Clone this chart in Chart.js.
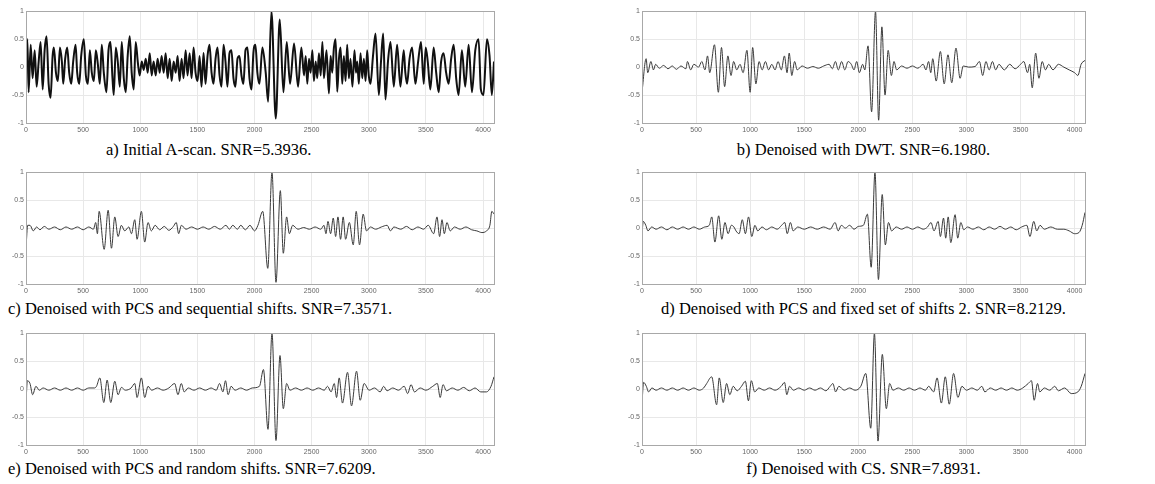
<!DOCTYPE html>
<html>
<head>
<meta charset="utf-8">
<script src="https://cdn.jsdelivr.net/npm/chart.js@4.4.1/dist/chart.umd.min.js"></script>
<style>
  html, body { margin: 0; padding: 0; background: #fff; }
  body { width: 1155px; height: 484px; position: relative; overflow: hidden; }
  .panel { position: absolute; height: 132px; }
  .left { left: 0px; width: 500px; }
  .right { left: 616px; width: 475px; }
  .cap { position: absolute; font-family: "Liberation Serif", "Times New Roman", serif; font-size: 16.5px; line-height: 18px; color: #000; white-space: nowrap; }
  .rc { left: 642px; width: 443px; text-align: center; }
</style>
</head>
<body>
<div class="panel left" style="top:5px"><canvas id="pa"></canvas></div>
<div class="panel right" style="top:5px"><canvas id="pb"></canvas></div>
<div class="panel left" style="top:166px"><canvas id="pc"></canvas></div>
<div class="panel right" style="top:166px"><canvas id="pd"></canvas></div>
<div class="panel left" style="top:327px"><canvas id="pe"></canvas></div>
<div class="panel right" style="top:327px"><canvas id="pf"></canvas></div>

<div class="cap" style="left:106px;top:141px">a) Initial A-scan. SNR=5.3936.</div>
<div class="cap rc" style="top:141px">b) Denoised with DWT. SNR=6.1980.</div>
<div class="cap" style="left:8px;top:300px">c) Denoised with PCS and sequential shifts. SNR=7.3571.</div>
<div class="cap rc" style="top:300px">d) Denoised with PCS and fixed set of shifts 2. SNR=8.2129.</div>
<div class="cap" style="left:8px;top:460px">e) Denoised with PCS and random shifts. SNR=7.6209.</div>
<div class="cap rc" style="top:460px">f) Denoised with CS. SNR=7.8931.</div>

<script>
// axis ticks shared by every panel
const xTicks = [0, 500, 1000, 1500, 2000, 2500, 3000, 3500, 4000];
const yTicks = [-1, -0.5, 0, 0.5, 1];

// a) initial A-scan (peaks / troughs read off the picture)
const scanX = [0, 12, 23, 41, 58, 76, 93, 111, 128, 146, 163, 180, 198, 215, 233, 244, 262, 279, 297, 314, 326, 343, 361, 378, 396, 413, 434, 448, 466, 483, 506, 524, 541, 559, 576, 594, 611, 629, 646, 663, 681, 704, 722, 739, 757, 768, 786, 803, 821, 838, 856, 873, 890, 908, 925, 943, 960, 978, 995,
  1013, 1030, 1048, 1065, 1083, 1100, 1117, 1135, 1152, 1170, 1187, 1205, 1222, 1240, 1257, 1275, 1292, 1310, 1327, 1344, 1362, 1379, 1397, 1414, 1432, 1449, 1467, 1484, 1502, 1519, 1536, 1554, 1571, 1589, 1606, 1624, 1641, 1659, 1676, 1694, 1711, 1729, 1746, 1763, 1781, 1798, 1816, 1833, 1851, 1868, 1886, 1903, 1921, 1938, 1956, 1974, 1990,
  2008, 2025, 2043, 2069, 2098, 2119, 2148, 2186, 2221, 2253, 2282, 2311, 2346, 2381, 2410, 2433, 2448, 2462, 2477, 2491, 2506, 2520, 2535, 2549, 2564, 2579, 2594, 2608, 2630, 2651, 2666, 2680, 2695, 2710, 2724, 2739, 2753, 2768, 2782, 2797, 2811, 2826, 2840, 2857, 2875, 2888, 2899, 2913, 2928, 2943, 2957, 2972, 2986, 3000, 3015,
  3037, 3059, 3088, 3107, 3126, 3146, 3168, 3190, 3219, 3248, 3277, 3306, 3320, 3335, 3357, 3379, 3408, 3432, 3457, 3481, 3498, 3516, 3539, 3568, 3590, 3612, 3633, 3655, 3677, 3699, 3721, 3743, 3765, 3786, 3815, 3844, 3874, 3903, 3932, 3961, 3981, 4004, 4034, 4057, 4077, 4096];
const scanY = [0.1, 0.5, -0.45, 0.4, -0.2, 0.3, -0.35, 0.1, 0.45, -0.4, 0.3, 0.55, -0.3, -0.55, 0.2, 0.35, -0.1, -0.25, 0.35, 0.1, -0.3, 0.15, 0.35, -0.1, -0.3, 0.1, 0.4, -0.1, -0.3, 0.2, 0.5, -0.15, -0.3, 0.3, -0.1, -0.25, 0.3, 0.05, -0.3, 0.4, -0.1, -0.45, 0.3, 0.45, -0.2, -0.5, 0.35, 0.1, -0.35, 0.45, -0.2, -0.45, 0.2, 0.55, -0.1, -0.4, 0.45, 0.1, -0.15,
  0.1, -0.05, 0.15, -0.1, 0.25, -0.15, 0.1, -0.15, 0.15, -0.1, 0.2, -0.1, 0.25, -0.2, 0.15, -0.25, 0.1, -0.1, 0.2, -0.25, 0.15, -0.2, 0.3, -0.15, 0.25, -0.2, 0.35, -0.1, -0.25, 0.2, -0.35, 0.25, -0.3, 0.2, 0.4, -0.1, -0.3, 0.15, 0.35, -0.15, -0.35, 0.4, 0.1, -0.35, 0.25, 0.3, -0.2, -0.35, 0.15, 0.2, -0.15, -0.3, 0.3, 0.35, -0.2, -0.4, 0.25,
  0.4, -0.1, -0.3, 0.35, -0.1, -0.62, 1.0, -0.92, 0.85, -0.45, 0.45, -0.3, 0.42, -0.35, 0.35, -0.15, 0.2, -0.3, 0.15, -0.1, 0.3, -0.25, 0.1, -0.2, 0.25, -0.15, 0.45, -0.2, 0.3, -0.47, 0.2, -0.1, 0.35, 0.5, -0.44, 0.15, 0.35, -0.3, 0.2, -0.25, 0.4, -0.2, 0.15, -0.35, 0.3, -0.1, 0.1, -0.3, 0.25, -0.2, 0.15, -0.25, 0.3, -0.15, -0.3,
  0.2, 0.6, -0.5, 0.1, 0.6, -0.58, 0.1, 0.45, -0.35, 0.4, -0.35, 0.3, -0.1, -0.3, 0.15, 0.35, -0.3, 0.1, 0.45, -0.3, 0.35, 0.1, -0.4, 0.35, -0.1, -0.45, 0.1, 0.25, -0.1, -0.3, 0.15, 0.4, -0.2, -0.5, 0.3, -0.35, 0.4, -0.45, 0.3, 0.5, -0.4, -0.5, 0.5, 0.2, -0.5, 0.1];

// b) denoised with DWT
const dwtX = [0, 38, 53, 82, 106, 126, 160, 200, 240, 280, 318, 360, 406, 420, 450, 479, 523, 553, 582, 606, 626, 670, 706, 735, 764, 794, 823, 847, 876, 906, 935, 970, 1000, 1023, 1053, 1082, 1111, 1141, 1170, 1200, 1230, 1258, 1288, 1317, 1341, 1361, 1385, 1411, 1435, 1480, 1530, 1580, 1630, 1680, 1730, 1760, 1788, 1815, 1846, 1875, 1905, 1935, 1960, 1985,
  2010, 2040, 2060, 2090, 2123, 2159, 2188, 2218, 2247, 2276, 2306, 2330, 2355, 2400, 2450, 2500, 2550, 2600, 2625, 2650, 2670, 2688, 2720, 2759, 2794, 2829, 2864, 2903, 2941, 2970, 3020, 3080, 3120, 3150, 3180, 3210, 3240, 3270, 3300, 3350, 3400, 3450, 3500, 3530, 3565, 3585, 3608, 3640, 3670, 3700, 3730, 3760, 3800, 3850, 3900, 3950, 4000, 4030, 4060, 4096];
const dwtY = [-0.45, 0.15, -0.1, 0.1, -0.05, 0.05, -0.02, 0.03, -0.03, 0.02, -0.04, 0.02, -0.03, 0.1, -0.05, 0.05, 0, 0.1, -0.05, 0.2, -0.1, 0.4, -0.45, 0.35, -0.35, 0.2, -0.15, 0.1, -0.05, 0.05, -0.1, 0.3, -0.45, 0.35, -0.3, 0.1, -0.05, 0.1, -0.05, 0.05, -0.05, 0.1, -0.05, 0.2, -0.1, 0.25, -0.15, 0.1, -0.05, 0.02, -0.02, 0.01, -0.02, 0.02, 0.05, -0.03, 0.1, -0.05, 0.1, -0.05, 0.1, 0.05, -0.05, 0.1,
  -0.1, 0.05, -0.05, 0.38, -0.8, 1.0, -0.95, 0.72, -0.5, 0.3, -0.15, 0.1, -0.05, 0.02, -0.02, 0.02, -0.02, 0.05, -0.05, 0.1, -0.1, 0.15, -0.25, 0.28, -0.3, 0.22, -0.28, 0.34, -0.2, 0.02, 0, 0.01, 0.1, -0.15, 0.1, -0.05, 0.1, -0.05, 0.05, -0.05, 0.05, -0.03, 0.05, 0.1, -0.1, 0.05, -0.37, 0.25, -0.2, 0.1, -0.05, 0.05, -0.05, 0.05, 0, -0.05, -0.1, -0.15, 0.05, 0.12];

// c) PCS with sequential shifts
const seqX = [0, 15, 35, 64, 93, 122, 160, 200, 250, 300, 350, 400, 450, 500, 550, 590, 610, 625, 640, 684, 719, 748, 777, 806, 835, 864, 900, 923, 952, 972, 1010, 1039, 1068, 1097, 1130, 1170, 1210, 1250, 1290, 1315, 1336, 1360, 1400, 1450, 1500, 1550, 1600, 1650, 1700, 1750, 1780, 1810, 1850, 1880, 1920, 1960,
  2000, 2030, 2072, 2116, 2153, 2188, 2226, 2252, 2281, 2305, 2334, 2380, 2430, 2480, 2530, 2580, 2608, 2625, 2643, 2666, 2689, 2710, 2730, 2753, 2776, 2797, 2830, 2864, 2890, 2919, 2951, 2980, 3015, 3060, 3110, 3161, 3190, 3220, 3280, 3330, 3380, 3430, 3480, 3520, 3568, 3597, 3620, 3641, 3661, 3684, 3713, 3750, 3800, 3850, 3900, 3946, 3990, 4030, 4060, 4077, 4096];
const seqY = [-0.35, 0.05, 0.05, -0.05, 0.02, -0.03, 0.03, -0.02, 0.02, -0.03, 0.02, -0.02, 0.02, -0.03, 0.02, -0.02, 0.1, -0.1, 0.3, -0.38, 0.32, -0.36, 0.2, -0.15, 0.05, -0.05, 0.02, -0.1, 0.15, -0.2, 0.3, -0.25, 0.1, -0.05, 0.05, -0.03, 0.03, -0.04, 0.03, 0.1, -0.1, 0.05, -0.02, 0.02, -0.02, 0.02, -0.02, 0.03, -0.02, 0.05, -0.02, 0.05, -0.02, 0.05, -0.03, 0.05,
  -0.05, 0.05, 0.3, -0.72, 1.0, -0.97, 0.67, -0.45, 0.2, -0.1, 0.05, -0.02, 0.01, -0.02, 0.02, -0.02, 0.05, -0.1, 0.12, -0.1, 0.18, -0.15, 0.2, -0.2, 0.2, -0.2, 0.1, -0.3, 0.3, -0.3, 0.25, -0.05, 0.02, -0.02, 0.02, 0.05, -0.05, 0.02, -0.02, 0.03, -0.03, 0.02, -0.02, 0.05, -0.1, 0.2, -0.15, 0.15, -0.1, 0.1, -0.05, 0.02, -0.02, 0.02, -0.03, -0.05, -0.08, -0.05, 0.05, 0.3, 0.25];

// d) PCS with fixed set of shifts 2
const fixX = [0, 12, 35, 55, 90, 130, 180, 230, 280, 330, 380, 430, 480, 530, 580, 622, 645, 674, 709, 738, 767, 796, 826, 850, 869, 898, 927, 956, 985, 1015, 1044, 1070, 1110, 1150, 1200, 1250, 1291, 1320, 1343, 1372, 1398, 1440, 1500, 1560, 1620, 1680, 1740, 1785, 1814, 1843, 1880, 1920, 1960,
  2000, 2047, 2084, 2119, 2154, 2186, 2221, 2250, 2279, 2308, 2350, 2400, 2450, 2500, 2550, 2600, 2640, 2672, 2700, 2738, 2759, 2788, 2808, 2831, 2855, 2895, 2919, 2948, 2975, 3010, 3060, 3110, 3160, 3210, 3260, 3310, 3360, 3410, 3460, 3510, 3558, 3587, 3622, 3650, 3680, 3720, 3780, 3840, 3900, 3950, 4000, 4040, 4070, 4096];
const fixY = [-0.1, 0.12, 0.05, -0.05, 0.02, -0.02, 0.02, -0.03, 0.02, -0.02, 0.02, -0.02, 0.02, -0.02, 0.02, 0.05, 0.2, -0.25, 0.22, -0.2, 0.1, -0.1, 0.05, 0.02, -0.05, -0.1, 0.15, -0.1, 0.2, -0.15, 0.05, -0.05, 0.02, -0.03, 0.02, -0.02, 0.05, 0.1, -0.1, 0.1, -0.05, 0.02, -0.02, 0.02, -0.02, 0.02, -0.02, 0.1, -0.05, 0.05, 0, 0.05, -0.02,
  0.03, 0.05, 0.25, -0.7, 1.0, -0.92, 0.6, -0.3, 0.1, -0.05, 0.02, -0.02, 0.02, -0.02, 0.02, -0.02, 0.02, 0.1, -0.05, 0.12, -0.15, 0.18, -0.18, 0.2, -0.26, 0.24, -0.18, 0.1, -0.03, 0.02, -0.02, 0.02, -0.03, 0.02, -0.02, 0.03, -0.02, 0.02, -0.03, 0.02, 0.05, -0.15, 0.12, -0.05, 0.05, -0.02, 0.02, -0.02, -0.02, -0.05, -0.1, -0.08, 0.05, 0.28];

// e) PCS with random shifts
const rndX = [0, 12, 35, 58, 87, 116, 150, 200, 250, 300, 350, 400, 450, 500, 550, 600, 617, 646, 681, 710, 742, 777, 806, 835, 870, 920, 952, 972, 1010, 1039, 1068, 1100, 1150, 1200, 1250, 1301, 1330, 1359, 1385, 1420, 1470, 1520, 1570, 1620, 1665, 1694, 1723, 1746, 1769, 1795, 1830, 1880, 1930, 1980,
  2043, 2078, 2118, 2153, 2188, 2223, 2252, 2281, 2310, 2360, 2410, 2460, 2510, 2560, 2610, 2639, 2670, 2698, 2718, 2741, 2770, 2814, 2849, 2893, 2925, 2959, 3003, 3050, 3100, 3130, 3160, 3210, 3260, 3310, 3340, 3370, 3400, 3450, 3500, 3560, 3600, 3625, 3650, 3680, 3730, 3780, 3830, 3880, 3930, 3980, 4030, 4070, 4096];
const rndY = [-0.25, 0.15, 0.1, -0.1, 0.05, -0.02, 0.02, -0.02, 0.02, -0.02, 0.02, -0.02, 0.02, -0.02, 0.02, 0.02, 0.05, 0.2, -0.24, 0.16, -0.24, 0.14, -0.1, 0.03, -0.02, 0.02, 0.1, -0.15, 0.2, -0.15, 0.05, -0.02, 0.02, -0.02, 0.02, 0.1, -0.1, 0.1, -0.05, 0.02, -0.02, 0.02, -0.02, 0.02, -0.02, 0.1, -0.05, 0.15, -0.1, 0.05, -0.02, 0.02, -0.02, 0.02,
  0.05, 0.35, -0.72, 1.0, -0.92, 0.6, -0.35, 0.1, -0.02, 0.02, -0.02, 0.02, -0.02, 0.02, -0.02, 0.05, -0.05, 0.1, -0.15, 0.2, -0.25, 0.3, -0.3, 0.32, -0.2, 0.1, -0.02, 0.02, -0.05, 0.05, -0.03, 0.02, -0.02, 0.05, -0.08, 0.08, -0.05, 0.02, -0.02, 0.05, 0.1, -0.15, 0.08, -0.03, 0.02, -0.02, 0.03, -0.03, 0.02, -0.05, -0.05, 0.05, 0.22];

// f) CS
const csX = [0, 15, 40, 61, 92, 130, 180, 230, 280, 330, 380, 430, 480, 530, 570, 598, 644, 690, 714, 751, 782, 812, 843, 880, 920, 956, 984, 1011, 1042, 1080, 1130, 1180, 1230, 1287, 1318, 1339, 1364, 1400, 1450, 1500, 1550, 1600, 1650, 1700, 1740, 1765, 1790, 1820, 1870, 1920, 1970,
  2023, 2069, 2115, 2149, 2182, 2222, 2259, 2290, 2320, 2370, 2420, 2470, 2520, 2570, 2620, 2651, 2697, 2728, 2768, 2804, 2841, 2881, 2921, 2958, 3000, 3050, 3100, 3142, 3170, 3220, 3270, 3320, 3370, 3420, 3470, 3520, 3571, 3601, 3626, 3657, 3678, 3720, 3770, 3816, 3850, 3908, 3969, 4030, 4061, 4096];
const csY = [-0.25, 0.12, 0.05, -0.05, 0.02, -0.02, 0.02, -0.02, 0.02, -0.02, 0.02, -0.02, 0.02, -0.02, 0.02, 0.1, 0.22, -0.28, 0.2, -0.24, 0.1, -0.1, 0.05, -0.03, 0.05, 0.14, -0.21, 0.15, -0.05, 0.02, -0.02, 0.02, -0.02, 0.05, 0.12, -0.1, 0.05, -0.02, 0.02, -0.02, 0.02, -0.02, 0.02, -0.03, 0.05, 0.1, -0.05, 0.05, -0.02, 0.02, -0.02,
  0.05, 0.28, -0.7, 1.0, -0.93, 0.62, -0.35, 0.1, -0.02, 0.02, -0.02, 0.02, -0.02, 0.02, -0.02, 0.05, -0.05, 0.2, -0.25, 0.22, -0.27, 0.28, -0.15, 0.05, -0.02, 0.02, -0.02, 0.05, -0.05, 0.02, -0.02, 0.02, -0.02, 0.02, -0.02, 0.02, 0.1, 0.15, -0.2, 0.1, -0.05, 0.02, -0.02, 0.05, -0.03, 0.02, -0.08, -0.05, 0.05, 0.28];

// draws the grey box round the plot area, like matlab's "box on"
const boxPlugin = {
    id: 'box',
    afterDraw(chart) {
        const a = chart.chartArea, ctx = chart.ctx;
        ctx.save();
        ctx.strokeStyle = '#a8a8a8';
        ctx.lineWidth = 1;
        ctx.strokeRect(Math.round(a.left) + 0.5, Math.round(a.top) + 0.5, Math.round(a.right - a.left), Math.round(a.bottom - a.top));
        ctx.restore();
    }
};

function makePanel(id, xs, ys, lineColor, lineWidth) {
    const points = xs.map((x, i) => ({ x: x, y: ys[i] }));
    const tickFont = { family: 'Liberation Sans, Arial, sans-serif', size: 7 };
    new Chart(document.getElementById(id), {
        type: 'line',
        data: {
            datasets: [{
                data: points,
                borderColor: lineColor,
                borderWidth: lineWidth,
                pointRadius: 0,
                cubicInterpolationMode: 'monotone',
                fill: false
            }]
        },
        options: {
            responsive: true, maintainAspectRatio: false, animation: false,
            layout: { padding: { top: 6, right: 6, left: 0, bottom: 0 } },
            plugins: { legend: { display: false }, tooltip: { enabled: false } },
            scales: {
                x: {
                    type: 'linear', min: 0, max: 4096,
                    afterBuildTicks: s => { s.ticks = xTicks.map(v => ({ value: v })); },
                    afterFit: s => { s.height = 14; },
                    grid: { color: '#e8e8e8', drawTicks: false },
                    border: { display: false },
                    ticks: { font: tickFont, color: '#666', padding: 3, maxRotation: 0, callback: v => String(v) }
                },
                y: {
                    min: -1, max: 1,
                    afterBuildTicks: s => { s.ticks = yTicks.map(v => ({ value: v })); },
                    afterFit: s => { s.width = 26; },
                    grid: { color: '#e8e8e8', drawTicks: false },
                    border: { display: false },
                    ticks: { font: tickFont, color: '#666', padding: 2, callback: v => String(v) }
                }
            }
        },
        plugins: [boxPlugin]
    });
}

makePanel('pa', scanX, scanY, '#111', 2);
makePanel('pb', dwtX, dwtY, '#3a3a3a', 1);
makePanel('pc', seqX, seqY, '#3a3a3a', 1);
makePanel('pd', fixX, fixY, '#3a3a3a', 1);
makePanel('pe', rndX, rndY, '#3a3a3a', 1);
makePanel('pf', csX, csY, '#3a3a3a', 1);
</script>
</body>
</html>
